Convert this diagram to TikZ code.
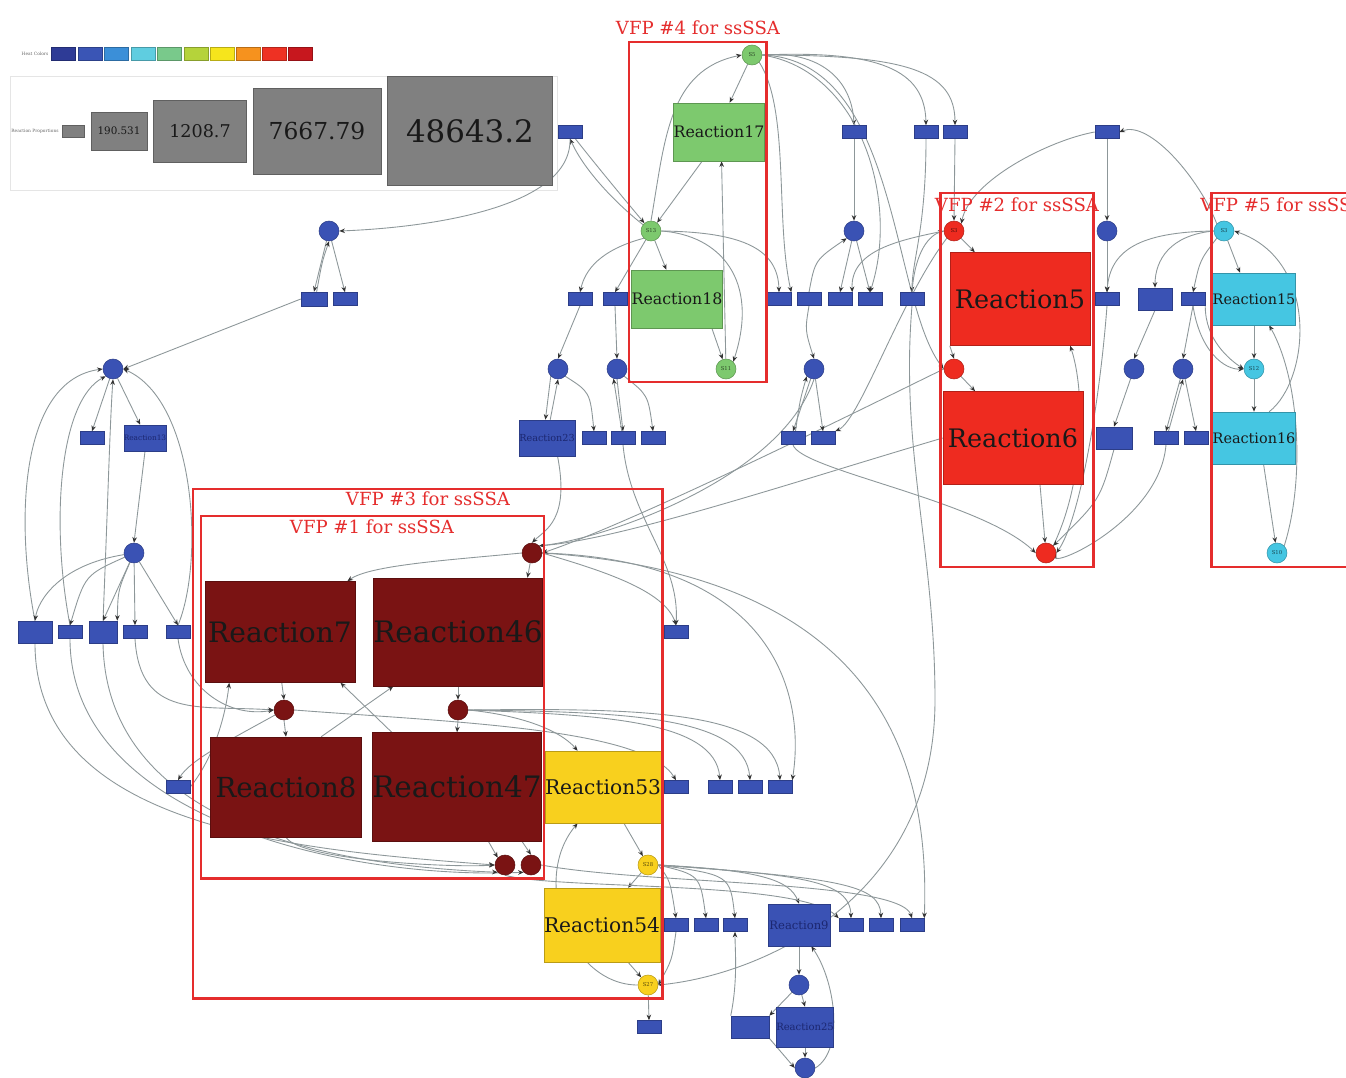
\documentclass[tikz,border=0pt]{standalone}
\usepackage{fontspec}
\setmainfont{DejaVu Serif}
\usetikzlibrary{arrows.meta}
\pgfdeclarelayer{back}
\pgfdeclarelayer{edges}
\pgfsetlayers{back,edges,main}
\definecolor{nblue}{HTML}{3A52B4}
\definecolor{nbtxt}{HTML}{1C2770}
\definecolor{ngreen}{HTML}{7DC96E}
\definecolor{nred}{HTML}{EE2B20}
\definecolor{ndred}{HTML}{7A1313}
\definecolor{ncyan}{HTML}{45C6E2}
\definecolor{nyel}{HTML}{F8D01E}
\definecolor{vfp}{HTML}{E52D2D}
\definecolor{edgec}{HTML}{8D9799}
\definecolor{lgray}{HTML}{808080}
\definecolor{lc1}{HTML}{2E3B96}
\definecolor{lc2}{HTML}{3A55B5}
\definecolor{lc3}{HTML}{3B8FD8}
\definecolor{lc4}{HTML}{5FCDE0}
\definecolor{lc5}{HTML}{79C98B}
\definecolor{lc6}{HTML}{B5D33A}
\definecolor{lc7}{HTML}{F6E51C}
\definecolor{lc8}{HTML}{F6921E}
\definecolor{lc9}{HTML}{EE3123}
\definecolor{lc10}{HTML}{C7171E}
\tikzset{
  rb/.style n args={3}{rectangle, inner sep=0pt, fill=#1, draw=#1!75!black, line width=0.3pt,
    minimum width=#2*0.02cm, minimum height=#3*0.02cm, text=black!90},
  cir/.style={circle, inner sep=0pt, minimum size=0.4cm, fill=#1, draw=#1!75!black,
    line width=0.3pt, text=#1!35!black, font=\fontsize{3}{3}\selectfont},
  sb/.style={rb={nblue}{24}{13}},
  cb/.style={cir=nblue},
  fs/.style={font=\fontsize{#1}{#1}\selectfont},
  btx/.style={text=nbtxt},
  tinytxt/.style={font=\fontsize{2.5}{3}\selectfont, text=black!60, inner sep=0pt},
  ed/.style={draw=edgec, line width=0.5pt, -{Stealth[length=3.2pt,width=2.6pt,color=black!80]}},
  vfpbox/.style={draw=vfp, line width=1.7pt},
  vfplab/.style={text=vfp, font=\fontsize{10.3}{12}\selectfont, inner sep=0pt},
}
\begin{document}
\begin{tikzpicture}[x=0.02cm,y=-0.02cm]
\useasboundingbox (0,0) rectangle (1346,1078);
\begin{pgfonlayer}{back}
\fill[white] (0,0) rectangle (1346,1078);
\draw[black!10, fill=white] (10,76) rectangle (557,190);
\end{pgfonlayer}

% ---------- legend
\node[tinytxt] (lgtxt) at (35,54) {Heat Colors};
\node[rb={lc1}{24}{13}] (sw1) at (63,54) {};
\node[rb={lc2}{24}{13}] (sw2) at (90,54) {};
\node[rb={lc3}{24}{13}] (sw3) at (116,54) {};
\node[rb={lc4}{24}{13}] (sw4) at (143,54) {};
\node[rb={lc5}{24}{13}] (sw5) at (169,54) {};
\node[rb={lc6}{24}{13}] (sw6) at (196,54) {};
\node[rb={lc7}{24}{13}] (sw7) at (222,54) {};
\node[rb={lc8}{24}{13}] (sw8) at (248,54) {};
\node[rb={lc9}{24}{13}] (sw9) at (274,54) {};
\node[rb={lc10}{24}{13}] (sw10) at (300,54) {};
\node[tinytxt] (lgtxt2) at (35,131) {Reaction Proportions};
\node[rb={lgray}{22}{12}] (g1) at (73,131) {};
\node[rb={lgray}{56}{38}, fs=5.9] (g2) at (119,131) {190.531};
\node[rb={lgray}{93}{62}, fs=10] (g3) at (200,131) {1208.7};
\node[rb={lgray}{128}{86}, fs=13.3] (g4) at (317,131) {7667.79};
\node[rb={lgray}{165}{109}, fs=17.6] (g5) at (470,131) {48643.2};

% ---------- VFP4 nodes
\node[cir=ngreen] (S5) at (752,55) {S5};
\node[rb={ngreen}{88}{58}, fs=9] (R17) at (719,132) {Reaction17};
\node[cir=ngreen] (S13) at (651,231) {S13};
\node[rb={ngreen}{88}{58}, fs=9] (R18) at (677,299) {Reaction18};
\node[cir=ngreen] (S11) at (726,369) {S11};
% ---------- VFP2 nodes
\node[cir=nred] (S3r) at (954,231) {S3};
\node[rb={nred}{140}{93}, fs=14.5] (R5) at (1020,299) {Reaction5};
\node[cir=nred] (S4r) at (954,369) {};
\node[rb={nred}{140}{93}, fs=14.5] (R6) at (1013,438) {Reaction6};
\node[cir=nred] (S9r) at (1046,553) {};
% ---------- VFP5 nodes
\node[cir=ncyan] (S3c) at (1224,231) {S3};
\node[rb={ncyan}{80}{52}, fs=8.2] (R15) at (1254,299) {Reaction15};
\node[cir=ncyan] (S12) at (1254,369) {S12};
\node[rb={ncyan}{78}{52}, fs=8.2] (R16) at (1254,438) {Reaction16};
\node[cir=ncyan] (S10) at (1277,553) {S10};
% ---------- VFP1 / VFP3 nodes
\node[cir=ndred] (D1) at (532,553) {};
\node[rb={ndred}{150}{101}, fs=16] (R7) at (280,632) {Reaction7};
\node[rb={ndred}{165}{108}, fs=16.8] (R46) at (458,632) {Reaction46};
\node[cir=ndred] (D2) at (284,710) {};
\node[cir=ndred] (D3) at (458,710) {};
\node[rb={ndred}{151}{100}, fs=15.7] (R8) at (286,787) {Reaction8};
\node[rb={ndred}{167}{109}, fs=16.8] (R47) at (457,787) {Reaction47};
\node[cir=ndred] (D4) at (505,865) {};
\node[cir=ndred] (D5) at (531,865) {};
\node[rb={nyel}{112}{72}, fs=11.5] (R53) at (603,787) {Reaction53};
\node[cir=nyel] (S28) at (648,865) {S28};
\node[rb={nyel}{111}{74}, fs=11.5] (R54) at (602,925) {Reaction54};
\node[cir=nyel] (S27) at (648,985) {S27};

% ---------- blue nodes
\node[sb] (a1) at (570,132) {};
\node[cb] (a2) at (329,231) {};
\node[rb={nblue}{26}{14}] (a3) at (314,299) {};
\node[sb] (a4) at (345,299) {};
\node[cb] (a5) at (113,369) {};
\node[sb] (a6) at (92,438) {};
\node[rb={nblue}{42}{26}, fs=4.2, btx] (a7) at (145,438) {Reaction13};
\node[cb] (a8) at (134,553) {};
\node[rb={nblue}{34}{22}] (a9) at (35,632) {};
\node[sb] (a10) at (70,632) {};
\node[rb={nblue}{28}{22}] (a11) at (103,632) {};
\node[sb] (a12) at (135,632) {};
\node[sb] (a13) at (178,632) {};
\node[sb] (a14) at (676,632) {};
\node[sb] (a15) at (178,787) {};
\node[sb] (a16) at (676,787) {};
\node[sb] (a17) at (720,787) {};
\node[sb] (a18) at (750,787) {};
\node[sb] (a19) at (780,787) {};
\node[sb] (a20) at (676,925) {};
\node[sb] (a21) at (706,925) {};
\node[sb] (a22) at (735,925) {};
\node[rb={nblue}{62}{42}, fs=6.6, btx] (R9) at (799,925) {Reaction9};
\node[sb] (a23) at (851,925) {};
\node[sb] (a24) at (881,925) {};
\node[sb] (a25) at (912,925) {};
\node[cb] (a26) at (799,985) {};
\node[rb={nblue}{38}{22}] (a27) at (750,1027) {};
\node[rb={nblue}{57}{40}, fs=5.7, btx] (R25) at (805,1027) {Reaction25};
\node[cb] (a28) at (805,1068) {};
\node[sb] (a29) at (649,1027) {};
\node[cb] (a30) at (558,369) {};
\node[cb] (a31) at (617,369) {};
\node[rb={nblue}{56}{36}, fs=5.5, btx] (R23) at (547,438) {Reaction23};
\node[sb] (a32) at (594,438) {};
\node[sb] (a33) at (623,438) {};
\node[sb] (a34) at (653,438) {};
\node[sb] (a35) at (580,299) {};
\node[sb] (a36) at (615,299) {};
\node[sb] (a37) at (779,299) {};
\node[sb] (a38) at (809,299) {};
\node[sb] (a39) at (840,299) {};
\node[sb] (a40) at (870,299) {};
\node[sb] (a41) at (912,299) {};
\node[sb] (a42) at (854,132) {};
\node[cb] (a43) at (854,231) {};
\node[cb] (a44) at (814,369) {};
\node[sb] (a45) at (793,438) {};
\node[sb] (a46) at (823,438) {};
\node[sb] (a47) at (926,132) {};
\node[sb] (a48) at (955,132) {};
\node[sb] (a49) at (1107,132) {};
\node[cb] (a50) at (1107,231) {};
\node[sb] (a51) at (1107,299) {};
\node[rb={nblue}{34}{22}] (a52) at (1155,299) {};
\node[sb] (a53) at (1193,299) {};
\node[cb] (a54) at (1134,369) {};
\node[cb] (a55) at (1183,369) {};
\node[rb={nblue}{36}{22}] (a56) at (1114,438) {};
\node[sb] (a57) at (1166,438) {};
\node[sb] (a58) at (1196,438) {};

% ---------- VFP boxes
\draw[vfpbox] (629,42) rectangle (766,382);
\node[vfplab] (l4) at (698,28) {VFP \#4 for ssSSA};
\draw[vfpbox] (940,193) rectangle (1093,567);
\node[vfplab] (l2) at (1017,205) {VFP \#2 for ssSSA};
\draw[vfpbox] (1211,193) rectangle (1360,567);
\node[vfplab, anchor=west] (l5) at (1200,205) {VFP \#5 for ssSSA};
\draw[vfpbox] (193,489) rectangle (662,998);
\node[vfplab] (l3) at (428,499) {VFP \#3 for ssSSA};
\draw[vfpbox] (201,516) rectangle (544,878);
\node[vfplab] (l1) at (372,527) {VFP \#1 for ssSSA};

% ---------- edges
\begin{pgfonlayer}{edges}
% VFP4
\draw[ed] (S5) -- (R17.70);
\draw[ed] (R17.240) -- (S13);
\draw[ed] (S13) -- (R18.110);
\draw[ed] (R18.-40) -- (S11);
\draw[ed] (S11) -- (R17.-85);
\draw[ed] (S13.north) .. controls (665,140) and (668,70) .. (S5.west);
\draw[ed] (S13.east) .. controls (720,235) and (760,280) .. (S11.north east);
\draw[ed] (a1) .. controls (600,170) and (625,200) .. (S13);
\draw[ed] (S13) .. controls (618,205) and (585,172) .. (a1.south);
\draw[ed] (a1.south) .. controls (572,210) and (420,228) .. (a2.east);
\draw[ed] (a2) -- (a3.north);
\draw[ed] (a2) -- (a4.north);
\draw[ed] (a3.70) .. controls (322,262) .. (a2.south);
\draw[ed] (a3.west) -- (a5.east);
\draw[ed] (a5) -- (a6.north);
\draw[ed] (a5) -- (a7.110);
\draw[ed] (a7.south) -- (a8.north);
\draw[ed] (a9.north) .. controls (15,520) and (20,380) .. (a5.west);
\draw[ed] (a10.north) .. controls (50,520) and (60,400) .. (a5.south west);
\draw[ed] (a11.north) .. controls (108,500) and (110,420) .. (a5.south);
\draw[ed] (a13.north) .. controls (205,560) and (195,400) .. (a5.east);
\draw[ed] (a8) .. controls (60,565) and (38,600) .. (a9.north);
\draw[ed] (a8) .. controls (85,575) .. (a10.north);
\draw[ed] (a8) -- (a11.north);
\draw[ed] (a8) .. controls (118,590) .. (a11.north east);
\draw[ed] (a8) -- (a12.north);
\draw[ed] (a8) -- (a13.north);
% left bottom long curves
\draw[ed] (a9.south) .. controls (35,830) and (300,850) .. (D4.west);
\draw[ed] (a10.south) .. controls (70,820) and (350,880) .. (D5.south west);
\draw[ed] (a11.south) .. controls (105,760) and (200,860) .. (D4.south west);
\draw[ed] (a12.south) .. controls (140,720) and (200,705) .. (D2.west);
\draw[ed] (a13.south) .. controls (185,690) and (230,718) .. (D2.west);
\draw[ed] (D2) .. controls (230,740) and (190,760) .. (a15.north);
\draw[ed] (a15.east) .. controls (212,760) and (225,720) .. (R7.-135);
% VFP1 / VFP3
\draw[ed] (D1.west) .. controls (450,560) and (370,565) .. (R7.37);
\draw[ed] (D1) -- (R46.38);
\draw[ed] (R7.-88) -- (D2.north);
\draw[ed] (R46.south) -- (D3.north);
\draw[ed] (D2.south) -- (R8.north);
\draw[ed] (D3.south) -- (R47.north);
\draw[ed] (D3.east) .. controls (520,715) and (560,730) .. (R53.125);
\draw[ed] (R8.55) -- (R46.-140);
\draw[ed] (R47.140) -- (R7.-40);
\draw[ed] (R8.south) .. controls (300,860) and (450,868) .. (D4.west);
\draw[ed] (R47.-60) -- (D4.north west);
\draw[ed] (R47.-40) -- (D5.north);
\draw[ed] (R53.-60) -- (S28);
\draw[ed] (S28) -- (R54.55);
\draw[ed] (R54.-55) -- (S27);
\draw[ed] (S27.west) .. controls (570,985) and (530,880) .. (R53.-125);
\draw[ed] (D1.east) .. controls (600,570) and (665,590) .. (a14.north);
\draw[ed] (D2.east) .. controls (450,722) and (645,728) .. (a16.north);
\draw[ed] (D3.east) .. controls (600,715) and (715,720) .. (a17.north);
\draw[ed] (D3.east) .. controls (620,712) and (745,715) .. (a18.north);
\draw[ed] (D3.east) .. controls (640,708) and (775,710) .. (a19.north);
\draw[ed] (D1.east) .. controls (780,560) and (805,700) .. (a19.north east);
\draw[ed] (D1.east) .. controls (880,575) and (930,760) .. (a25.north east);
\draw[ed] (S28.east) .. controls (670,880) .. (a20.north);
\draw[ed] (S28.east) .. controls (700,875) .. (a21.north);
\draw[ed] (S28.east) .. controls (730,875) .. (a22.north);
\draw[ed] (S28.east) .. controls (760,870) and (790,880) .. (R9.north);
\draw[ed] (S28.east) .. controls (800,875) and (850,880) .. (a23.north);
\draw[ed] (S28.east) .. controls (840,878) and (880,885) .. (a24.north);
\draw[ed] (D5.east) .. controls (650,885) and (900,880) .. (a25.north);
\draw[ed] (D4.south) .. controls (560,890) and (800,880) .. (a23.north west);
\draw[ed] (R9) -- (a26);
\draw[ed] (a26) -- (a27.north east);
\draw[ed] (a26) -- (R25.north);
\draw[ed] (R25) -- (a28);
\draw[ed] (a27.south east) -- (a28.west);
\draw[ed] (a28.east) .. controls (845,1050) and (835,980) .. (R9.-60);
\draw[ed] (a27.north west) .. controls (738,980) and (735,950) .. (a22.south);
\draw[ed] (S27) -- (a29.north);
\draw[ed] (a20.south) .. controls (672,960) .. (S27.east);
\draw[ed] (a41.south) .. controls (900,450) and (935,550) .. (935,700) .. controls (935,900) and (760,975) .. (S27.east);
\draw[ed] (S4r.west) .. controls (880,400) and (640,520) .. (D1.east);
\draw[ed] (R6.west) .. controls (800,480) and (620,540) .. (D1.north east);
\draw[ed] (a44.south) .. controls (780,480) and (600,540) .. (D1.north east);
\draw[ed] (a33.south) .. controls (630,520) and (680,560) .. (a14.north);
\draw[ed] (R23.-60) .. controls (570,520) and (545,530) .. (D1.north);
% top centre
\draw[ed] (S13.south west) .. controls (600,250) and (585,270) .. (a35.north);
\draw[ed] (S13) -- (a36.north);
\draw[ed] (S13.east) .. controls (745,232) and (778,250) .. (a37.north);
\draw[ed] (a35.south) -- (a30.north);
\draw[ed] (a36.south) -- (a31.north);
\draw[ed] (a30.south west) -- (R23.95);
\draw[ed] (R23.80) -- (a30.south);
\draw[ed] (a30.south east) .. controls (590,392) .. (a32.north);
\draw[ed] (a31.south) -- (a33.north);
\draw[ed] (a33.100) -- (a31.-110);
\draw[ed] (a31.south east) .. controls (648,395) .. (a34.north);
\draw[ed] (S5.east) .. controls (820,50) and (852,80) .. (a42.north);
\draw[ed] (S5.east) .. controls (880,50) and (925,70) .. (a47.north);
\draw[ed] (S5.east) .. controls (905,55) and (955,70) .. (a48.north);
\draw[ed] (S5.south east) .. controls (790,110) and (775,220) .. (a37.north east);
\draw[ed] (S5.east) .. controls (860,70) and (900,200) .. (a40.north);
\draw[ed] (S5.east) .. controls (900,60) and (890,300) .. (S4r.west);
\draw[ed] (a42) -- (a43);
\draw[ed] (a43) -- (a39.north);
\draw[ed] (a43) -- (a40.north);
\draw[ed] (a38.north) .. controls (815,260) .. (a43.south west);
\draw[ed] (a38.south) .. controls (805,330) .. (a44.north);
\draw[ed] (a44) -- (a45.north);
\draw[ed] (a44) -- (a46.north);
\draw[ed] (a45.70) .. controls (800,400) .. (a44.south west);
\draw[ed] (a47.south) .. controls (926,230) and (912,260) .. (a41.north);
\draw[ed] (a48.south) -- (S3r.north);
\draw[ed] (a49) -- (a50);
\draw[ed] (a50) -- (a51);
\draw[ed] (S3c.north west) .. controls (1200,180) and (1150,120) .. (a49.east);
\draw[ed] (a49.west) .. controls (1050,140) and (970,180) .. (S3r.north east);
\draw[ed] (a41.north) .. controls (915,250) and (930,235) .. (S3r.west);
\draw[ed] (S3r.west) .. controls (900,240) and (850,250) .. (a39.north east);
\draw[ed] (S3r.south west) .. controls (900,300) and (860,420) .. (a46.north east);
% VFP2
\draw[ed] (S3r) -- (R5.134);
\draw[ed] (R5.south west) -- (S4r.north);
\draw[ed] (S4r) -- (R6.129);
\draw[ed] (R6.-60) -- (S9r);
\draw[ed] (S9r.north east) .. controls (1085,480) and (1085,390) .. (R5.-43);
\draw[ed] (a45.south) .. controls (800,470) and (980,500) .. (S9r.west);
% VFP5
\draw[ed] (S3c) -- (R15.118);
\draw[ed] (R15.south) -- (S12);
\draw[ed] (S12) -- (R16.north);
\draw[ed] (R16.-70) -- (S10);
\draw[ed] (S10.north east) .. controls (1305,480) and (1300,380) .. (R15.-60);
\draw[ed] (R16.60) .. controls (1310,380) and (1320,260) .. (S3c.east);
\draw[ed] (a53.south east) .. controls (1205,340) and (1230,360) .. (S12.west);
\draw[ed] (a53.south) .. controls (1200,352) and (1225,370) .. (S12.west);
\draw[ed] (a52.south) -- (a54.north);
\draw[ed] (a54) -- (a56.north);
\draw[ed] (a53.south) -- (a55.north);
\draw[ed] (a55) -- (a57.north);
\draw[ed] (a57.70) -- (a55.south);
\draw[ed] (a55) -- (a58.north);
\draw[ed] (S3c.west) .. controls (1170,235) and (1155,260) .. (a52.north);
\draw[ed] (S3c.west) .. controls (1140,232) and (1110,250) .. (a51.north);
\draw[ed] (S3c.south west) .. controls (1200,260) .. (a53.north);
\draw[ed] (a57.south) .. controls (1160,520) and (1050,570) .. (S9r.east);
\draw[ed] (a56.south) .. controls (1100,500) .. (S9r.north east);
\draw[ed] (a51.south) .. controls (1100,400) and (1080,520) .. (S9r.east);
\end{pgfonlayer}
\end{tikzpicture}
\end{document}
